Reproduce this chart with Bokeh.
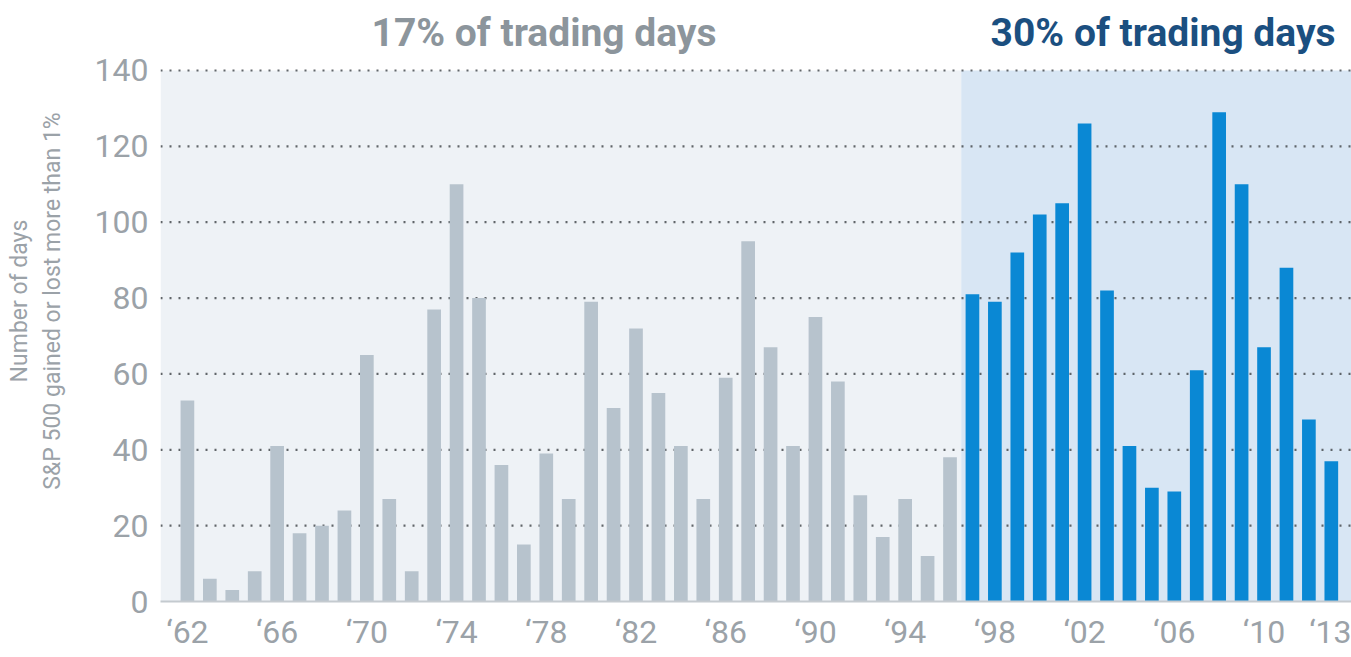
from bokeh.plotting import figure
from bokeh.models import Label, FixedTicker, Range1d
from bokeh.embed import file_html
from bokeh.resources import INLINE

# ---- data ----
grey_years = list(range(1962, 1997))
grey_values = [53, 6, 3, 8, 41, 18, 20, 24, 65, 27, 8, 77, 110, 80, 36, 15, 39, 27,
               79, 51, 72, 55, 41, 27, 59, 95, 67, 41, 75, 58, 28, 17, 27, 12, 38]
blue_years = list(range(1997, 2014))
blue_values = [81, 79, 92, 102, 105, 126, 82, 41, 30, 29, 61, 129, 110, 67, 88, 48, 37]
tick_years = [1962, 1966, 1970, 1974, 1978, 1982, 1986, 1990, 1994, 1998, 2002, 2006, 2010, 2013]
tick_labels = ["‘62", "‘66", "‘70", "‘74", "‘78", "‘82", "‘86", "‘90", "‘94", "‘98", "‘02", "‘06", "‘10", "‘13"]
y_ticks = [0, 20, 40, 60, 80, 100, 120, 140]
left_title = "17% of trading days"
right_title = "30% of trading days"

GREY_BAR = "#b7c3cd"
BLUE_BAR = "#0a88d4"
BG_LEFT = "#eef2f6"
BG_RIGHT = "#d8e6f4"
TXT_GREY = "#9ba2a8"
FONT = "Roboto"

x0, x1 = 1960.8, 2013.9
y_top = 158.45
split = (grey_years[-1] + blue_years[0]) / 2

p = figure(width=1351, height=657, output_backend="svg", toolbar_location=None,
           x_range=Range1d(x0, x1), y_range=Range1d(0, y_top),
           min_border_left=160, min_border_right=0, min_border_top=0, min_border_bottom=56)
p.outline_line_color = None
p.background_fill_color = "white"
p.border_fill_color = "white"
p.xgrid.visible = False
p.ygrid.visible = False

# backgrounds
p.quad(left=[x0], right=[split], bottom=[0], top=[max(y_ticks)], color=BG_LEFT, line_color=None)
p.quad(left=[split], right=[x1], bottom=[0], top=[max(y_ticks)], color=BG_RIGHT, line_color=None)

# dotted grid lines
gy = y_ticks[1:]
p.segment(x0=[x0] * len(gy), x1=[x1] * len(gy), y0=gy, y1=gy,
          line_color="#50555a", line_width=2.2, line_dash="2 7", line_alpha=0.9)

# bars
p.vbar(x=grey_years, top=grey_values, width=0.61, color=GREY_BAR, line_color=None)
p.vbar(x=blue_years, top=blue_values, width=0.61, color=BLUE_BAR, line_color=None)

# titles
p.add_layout(Label(x=1977.9, y=150.0, text=left_title, text_align="center", text_baseline="middle",
                   text_font=FONT, text_font_style="bold",
                   text_font_size="39px", text_color="#8c959c"))
p.add_layout(Label(x=2005.5, y=150.0, text=right_title, text_align="center", text_baseline="middle",
                   text_font=FONT, text_font_style="bold",
                   text_font_size="39px", text_color="#1b4f80"))

# x axis
p.xaxis.ticker = FixedTicker(ticks=tick_years)
p.xaxis.major_label_overrides = dict(zip(tick_years, tick_labels))
p.xaxis.major_tick_line_color = None
p.xaxis.minor_tick_line_color = None
p.xaxis.major_tick_out = 0
p.xaxis.major_tick_in = 0
p.xaxis.minor_tick_out = 0
p.xaxis.minor_tick_in = 0
p.xaxis.axis_line_color = "#c4cacf"
p.xaxis.axis_line_width = 2
p.xaxis.major_label_text_font = FONT
p.xaxis.major_label_text_font_size = "32px"
p.xaxis.major_label_text_color = TXT_GREY
p.xaxis.major_label_standoff = 11

# y axis
p.yaxis.ticker = FixedTicker(ticks=y_ticks)
p.yaxis.major_tick_line_color = None
p.yaxis.minor_tick_line_color = None
p.yaxis.major_tick_out = 0
p.yaxis.major_tick_in = 0
p.yaxis.minor_tick_out = 0
p.yaxis.minor_tick_in = 0
p.yaxis.axis_line_color = None
p.yaxis.major_label_text_font = FONT
p.yaxis.major_label_text_font_size = "32px"
p.yaxis.major_label_text_color = TXT_GREY
p.yaxis.major_label_standoff = 12
p.yaxis.axis_label = "Number of days\nS&P 500 gained or lost more than 1%"
p.yaxis.axis_label_text_font = FONT
p.yaxis.axis_label_text_font_style = "normal"
p.yaxis.axis_label_text_font_size = "23px"
p.yaxis.axis_label_text_color = TXT_GREY
p.yaxis.axis_label_standoff = 26

open("out.html", "w").write(file_html(p, INLINE))
